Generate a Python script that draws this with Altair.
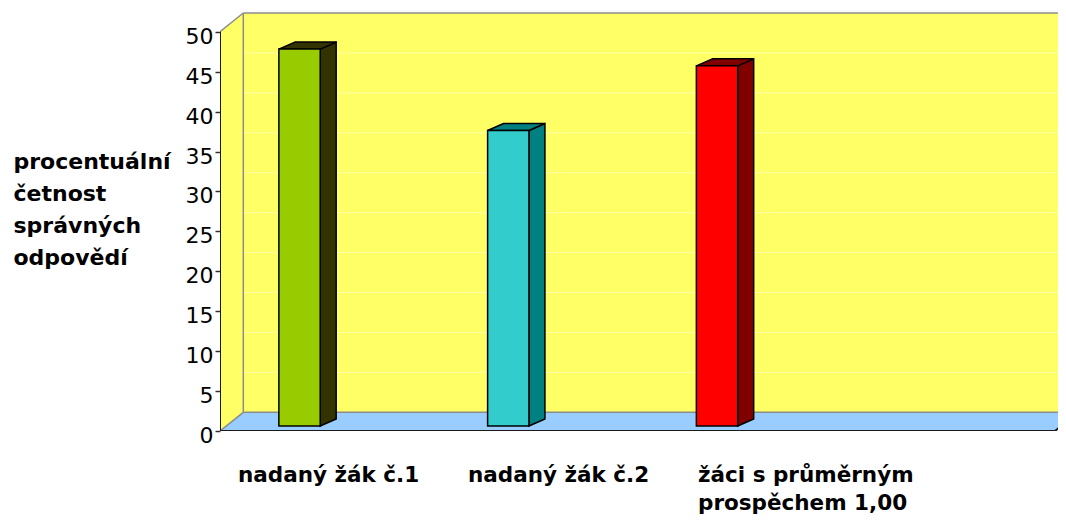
import altair as alt
import pandas as pd

# ---------------- data ----------------
categories = ["nadaný žák č.1", "nadaný žák č.2", "žáci s průměrným prospěchem 1,00"]
label_text = ["nadaný žák č.1", "nadaný žák č.2", "žáci s průměrným\nprospěchem 1,00"]
values = [47.2, 37.0, 45.1]
front_colors = ["#99CC00", "#33CCCC", "#FF0000"]
side_colors = ["#333300", "#008080", "#800000"]
y_ticks = [0, 5, 10, 15, 20, 25, 30, 35, 40, 45, 50]
y_title = ["procentuální", "četnost", "správných", "odpovědí"]

# ---------------- geometry / style constants ----------------
N_SLOTS = 4            # floor spans four category slots
X_MAX = 4.0144         # visible x range in category units
Y_MAX = 52.47          # visible y range in value units
TOP = 50               # wall height
DX, DY = 0.1116, 2.34  # depth of the walls
BAR_OFF, BAR_W = 0.282, 0.198
BAR_BASE = 0.626
BDX, BDY = 0.0766, 0.877
LAB_X0, LAB_STEP = 0.086, 1.102
FAR = X_MAX + 1

xs = alt.Scale(domain=[0, X_MAX], nice=False, zero=False)
ys = alt.Scale(domain=[0, Y_MAX], nice=False, zero=False)

yaxis = alt.Axis(
    values=y_ticks, domain=False, grid=False, tickSize=5, tickColor="#333333",
    tickWidth=1.5, labelFont="DejaVu Sans", labelFontSize=22, labelColor="black",
    labelPadding=2, labelOffset=4.5, labelFlush=False, labelOverlap=False,
    title=y_title, titleAngle=0, titleAlign="left", titleBaseline="alphabetic",
    titleX=-207, titleY=156, titleFont="DejaVu Sans", titleFontSize=22,
    titleFontWeight="bold", titleColor="black", titleLineHeight=32,
)


def X(f):
    return alt.X(f"{f}:Q", scale=xs, axis=None)


def Y(f):
    return alt.Y(f"{f}:Q", scale=ys, axis=yaxis)


def seg_df(segs):
    return pd.DataFrame(segs, columns=["x", "y", "x2", "y2"])


def segs_layer(df, color, width):
    return alt.Chart(df).mark_rule(color=color, strokeWidth=width, clip=True).encode(
        x=X("x"), y=Y("y"), x2="x2:Q", y2="y2:Q"
    )


# back wall
back = alt.Chart(pd.DataFrame([{"x": DX, "x2": FAR, "y": DY, "y2": DY + TOP}])).mark_rect(
    color="#FFFF66", clip=True
).encode(x=X("x"), x2="x2:Q", y=Y("y"), y2="y2:Q")

# left wall (trapezoid)
left = alt.Chart(pd.DataFrame([{"x": 0, "y": 0, "y2": TOP}, {"x": DX, "y": DY, "y2": DY + TOP}])).mark_area(
    color="#FFFF66", orient="vertical"
).encode(x=X("x"), y=Y("y"), y2="y2:Q")

# grid lines
grid_vals = [v for v in y_ticks if 0 < v < TOP]
grid = segs_layer(
    seg_df([(DX, DY + v, FAR, DY + v) for v in grid_vals] + [(0, v, DX, DY + v) for v in grid_vals]),
    "#FFFFAA", 1,
)

# floor
floor = alt.Chart(pd.DataFrame([{"y": 0, "x": 0, "x2": N_SLOTS}, {"y": DY, "x": DX, "x2": N_SLOTS + DX}])).mark_area(
    color="#99CCFF", orient="horizontal", clip=True
).encode(y=Y("y"), x=X("x"), x2="x2:Q")

gray = segs_layer(seg_df([
    (DX, DY, DX, DY + TOP),
    (DX, DY + TOP, FAR, DY + TOP),
    (0, TOP, DX, DY + TOP),
    (0, 0, DX, DY),
    (DX, DY, N_SLOTS + DX, DY),
]), "#8C8C8C", 1.5)

dark = segs_layer(seg_df([
    (0, 0, 0, TOP),
    (0, 0, N_SLOTS, 0),
    (N_SLOTS, 0, N_SLOTS + DX, DY),
]), "#1A1A1A", 2)

# bars
front_rows, side_rows, top_rows = [], [], []
for i, (cat, v, fc, sc) in enumerate(zip(categories, values, front_colors, side_colors)):
    L = i + BAR_OFF
    R = L + BAR_W
    front_rows.append({"cat": cat, "x": L, "x2": R, "y": BAR_BASE, "y2": BAR_BASE + v, "c": fc})
    side_rows += [
        {"cat": cat, "x": R, "y": BAR_BASE, "y2": BAR_BASE + v, "c": sc},
        {"cat": cat, "x": R + BDX, "y": BAR_BASE + BDY, "y2": BAR_BASE + v + BDY, "c": sc},
    ]
    top_rows += [
        {"cat": cat, "y": BAR_BASE + v, "x": L, "x2": R, "c": sc},
        {"cat": cat, "y": BAR_BASE + v + BDY, "x": L + BDX, "x2": R + BDX, "c": sc},
    ]

bar_side = alt.Chart(pd.DataFrame(side_rows)).mark_area(
    orient="vertical", stroke="black", strokeWidth=1.5, strokeJoin="miter"
).encode(x=X("x"), y=Y("y"), y2="y2:Q", fill=alt.Fill("c:N", scale=None), detail="cat:N")

bar_top = alt.Chart(pd.DataFrame(top_rows)).mark_area(
    orient="horizontal", stroke="black", strokeWidth=1.5, strokeJoin="miter"
).encode(y=Y("y"), x=X("x"), x2="x2:Q", fill=alt.Fill("c:N", scale=None), detail="cat:N")

bar_front = alt.Chart(pd.DataFrame(front_rows)).mark_rect(
    stroke="black", strokeWidth=1.5
).encode(x=X("x"), x2="x2:Q", y=Y("y"), y2="y2:Q", fill=alt.Fill("c:N", scale=None))

# category labels
labels = alt.Chart(pd.DataFrame({"label": label_text, "i": list(range(len(label_text)))})).transform_calculate(
    lx=f"{LAB_X0} + {LAB_STEP} * datum.i"
).mark_text(
    align="left", baseline="alphabetic", lineBreak="\n", lineHeight=28.5,
    font="DejaVu Sans", fontWeight="bold", fontSize=21.5, color="black",
).encode(x=X("lx"), y=alt.value(469.7), text="label:N")

chart = alt.layer(
    back, grid, left, floor, gray, dark, bar_side, bar_top, bar_front, labels
).properties(
    width=838, height=419,
    autosize=alt.AutoSizeParams(type="none"),
    padding={"left": 212, "top": 4, "right": 0, "bottom": 90},
    background="white",
).configure_view(stroke=None)

chart.save("out.html", embed_options={"renderer": "svg", "actions": False})
